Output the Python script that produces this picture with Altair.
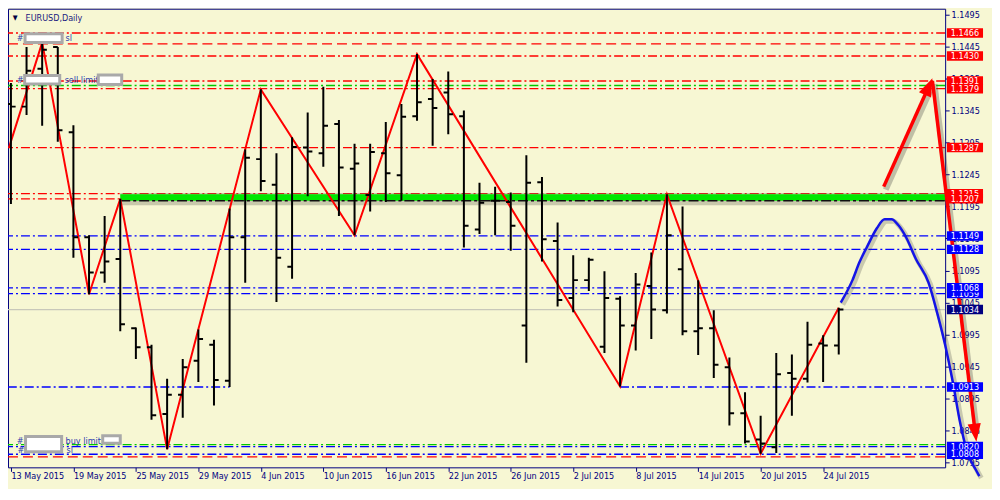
import json
import altair as alt
import pandas as pd

# ---------------- data ----------------
date_labels = ["13 May 2015", "19 May 2015", "25 May 2015", "29 May 2015", "4 Jun 2015",
               "10 Jun 2015", "16 Jun 2015", "22 Jun 2015", "26 Jun 2015", "2 Jul 2015",
               "8 Jul 2015", "14 Jul 2015", "20 Jul 2015", "24 Jul 2015"]
price_ticks = [1.0795, 1.0845, 1.0895, 1.0945, 1.0995, 1.1045, 1.1095, 1.1145,
               1.1195, 1.1245, 1.1295, 1.1345, 1.1395, 1.1445, 1.1495]

opens = [1.1355, 1.1351, 1.1410, 1.1444, 1.1311, 1.1147, 1.1092, 1.1113, 1.1005, 1.0975,
         1.0871, 1.0901, 1.0954, 1.0979, 1.0923, 1.1147, 1.1269, 1.1229, 1.1101, 1.1287,
         1.1278, 1.1324, 1.1254, 1.1213, 1.1278, 1.1244, 1.1336, 1.1363, 1.1373, 1.1336,
         1.1159, 1.1204, 1.1202, 1.1009, 1.1233, 1.1141, 1.1052, 1.1080, 1.0976, 1.1051,
         1.1009, 1.1071, 1.1033, 1.1097, 1.1000, 1.1005, 1.0944, 1.0872, 1.0831, 1.0819,
         1.0935, 1.0926, 1.0981, 1.0978]
highs = [1.1388, 1.1444, 1.1451, 1.1444, 1.1322, 1.1150, 1.1180, 1.1207, 1.1006, 1.0979,
         1.0926, 1.0957, 1.1003, 1.0987, 1.1192, 1.1284, 1.1378, 1.1278, 1.1303, 1.1342,
         1.1382, 1.1330, 1.1293, 1.1293, 1.1327, 1.1355, 1.1433, 1.1394, 1.1406, 1.1345,
         1.1232, 1.1226, 1.1217, 1.1275, 1.1241, 1.1170, 1.1119, 1.1115, 1.1094, 1.1055,
         1.1091, 1.1123, 1.1214, 1.1195, 1.1080, 1.1033, 1.0959, 1.0905, 1.0868, 1.0966,
         1.0964, 1.1015, 1.0994, 1.1037]
lows = [1.1199, 1.1338, 1.1321, 1.1296, 1.1115, 1.1058, 1.1076, 1.1000, 1.0957, 1.0862,
        1.0816, 1.0865, 1.0921, 1.0884, 1.0913, 1.1076, 1.1219, 1.1046, 1.1082, 1.1211,
        1.1257, 1.1180, 1.1150, 1.1187, 1.1202, 1.1204, 1.1329, 1.1290, 1.1308, 1.1131,
        1.1152, 1.1150, 1.1126, 1.0951, 1.1109, 1.1039, 1.1030, 1.1063, 1.0966, 1.0914,
        1.0970, 1.0988, 1.1028, 1.0994, 1.0963, 1.0927, 1.0853, 1.0825, 1.0809, 1.0810,
        1.0868, 1.0920, 1.0921, 1.0964]
closes = [1.1351, 1.1407, 1.1440, 1.1314, 1.1147, 1.1092, 1.1109, 1.1011, 1.0975, 1.0869,
          1.0901, 1.0944, 1.0988, 1.0924, 1.1147, 1.1271, 1.1235, 1.1115, 1.1288, 1.1281,
          1.1321, 1.1256, 1.1262, 1.1280, 1.1247, 1.1335, 1.1358, 1.1349, 1.1339, 1.1165,
          1.1201, 1.1204, 1.1165, 1.1232, 1.1144, 1.1049, 1.1080, 1.1112, 1.1052, 1.1009,
          1.1073, 1.1034, 1.1150, 1.1000, 1.1005, 1.0948, 1.0872, 1.0828, 1.0825, 1.0933,
          1.0926, 1.0979, 1.0978, 1.1034]

zigzag_idx = [-0.125, 2, 5, 7, 10, 16, 22, 26, 39, 42, 48, 53]
zigzag_price = [1.1287, 1.1451, 1.1058, 1.1207, 1.0816, 1.1378, 1.1150, 1.1433,
                1.0914, 1.1214, 1.0809, 1.1037]

proj_idx = [53.13, 53.88, 54.31, 54.81, 55.44, 55.94, 56.38, 56.81, 57.31, 57.94,
            58.75, 59.31, 59.81, 60.31, 60.75, 61.25, 61.75, 62.0]
proj_price = [1.1045, 1.1080, 1.1107, 1.1132, 1.1161, 1.1175, 1.1175, 1.1166, 1.1147,
              1.1113, 1.1076, 1.1028, 1.0979, 1.0920, 1.0860, 1.0810, 1.0785, 1.0774]

arrow_up_idx = [55.88, 58.72]
arrow_up_price = [1.1226, 1.1380]
arrow_dn_idx = [59.0, 61.73]
arrow_dn_price = [1.1391, 1.0844]

red_dashdot_levels = [1.1466, 1.1430, 1.1391, 1.1379, 1.1287, 1.1215, 1.1207]
red_dash_levels = [1.1449, 1.0804]
green_levels = [1.1384, 1.0823]
blue_levels = [1.1149, 1.1128, 1.1068, 1.1059, 1.0820, 1.0808]
blue_segment_idx = [[-0.2, 14], [39, 60]]
blue_segment_price = 1.0913
current_price = 1.1034
zone_low, zone_high, zone_start = 1.1204, 1.1214, 7

red_tags = [1.1466, 1.1430, 1.1391, 1.1379, 1.1287, 1.1207]
red_tags_back = [1.1215]
blue_tags = [1.1149, 1.1128, 1.1068, 1.0913, 1.0808]
blue_tags_back = [1.1059, 1.0820]

# ---------------- styling ----------------
BG = "#F7F7D3"
NAVY = "#000080"
FONT = "DejaVu Sans Condensed, Liberation Sans, sans-serif"
LBL = "#2B3BAE"
W, H = 940, 460
LW = 1.35
xs = alt.Scale(domain=[-0.1875, 59.8125], nice=False, zero=False)
ys = alt.Scale(domain=[1.07876, 1.15039], nice=False, zero=False)
XAXIS = alt.Axis(values=list(range(0, 53, 4)),
                 labelExpr=json.dumps(date_labels) + "[round(datum.value / 4)]",
                 title=None, orient="bottom", tickSize=4, labelAlign="left",
                 labelPadding=0, labelFlush=False, labelOverlap=False, labelBound=False)
YAXIS = alt.Axis(values=price_ticks, format=".4f", title=None, orient="right",
                 tickSize=4, labelPadding=2, labelAlign="left", labelBaseline="middle",
                 labelOverlap=False, labelBound=False, labelFlush=False)
DASHDOT = [9, 3, 2, 3]
DASH = [10, 5]


def Y(field):
    return alt.Y(field, type="quantitative", scale=ys, axis=YAXIS)


def X(field):
    return alt.X(field, type="quantitative", scale=xs, axis=XAXIS)


def hrules(prices, color, dash, width=LW):
    d = pd.DataFrame({"price": prices})
    return alt.Chart(d).mark_rule(color=color, strokeDash=dash, strokeWidth=width,
                                  clip=True).encode(y=Y("price"))


layers = []

# level lines
layers.append(hrules([current_price], "#C8C8BA", [1, 0], 1.2))
layers.append(hrules(red_dashdot_levels, "#FF0000", DASHDOT))
layers.append(hrules(red_dash_levels, "#FF0000", DASH))
layers.append(hrules(green_levels, "#00C800", DASHDOT))
layers.append(hrules(blue_levels, "#0000FF", DASHDOT))
seg = pd.DataFrame({"a": [s[0] for s in blue_segment_idx], "b": [s[1] for s in blue_segment_idx],
                    "price": [blue_segment_price] * len(blue_segment_idx)})
layers.append(alt.Chart(seg).mark_rule(color="#0000FF", strokeDash=DASHDOT, strokeWidth=LW, clip=True)
              .encode(x=X("a"), x2="b", y=Y("price")))

# support zone (green band with shadow)
zone = pd.DataFrame({"a": [zone_start], "b": [60], "lo": [zone_low], "hi": [zone_high]})
layers.append(alt.Chart(zone).transform_calculate(slo="datum.lo - 0.0007", shi="datum.hi + 0.0002")
              .mark_rect(color="#707060", opacity=0.35, clip=True)
              .encode(x=X("a"), x2="b", y=Y("slo:Q"), y2="shi:Q"))
layers.append(alt.Chart(zone).mark_rect(color="#00E800", clip=True)
              .encode(x=X("a"), x2="b", y=Y("lo"), y2="hi"))
layers.append(alt.Chart(zone).mark_rule(color="#101010", strokeDash=[10, 3, 3, 3], strokeWidth=1.5,
                                        clip=True)
              .encode(x=X("a"), x2="b", y=Y("lo")))

# zigzag
zz = pd.DataFrame({"idx": zigzag_idx, "price": zigzag_price})
layers.append(alt.Chart(zz).mark_line(color="#FF0000", strokeWidth=2, clip=True)
              .encode(x=X("idx"), y=Y("price")))

# OHLC bars
df = pd.DataFrame({"idx": list(range(len(opens))), "open": opens, "high": highs,
                   "low": lows, "close": closes})
df["xl"] = df["idx"] - 0.3
df["xr"] = df["idx"] + 0.3
base = alt.Chart(df)
layers.append(base.mark_rule(color="#000000", strokeWidth=2, clip=True)
              .encode(x=X("idx"), y=Y("low"), y2="high"))
layers.append(base.mark_rule(color="#000000", strokeWidth=2, clip=True)
              .encode(x=X("xl"), x2="idx", y=Y("open")))
layers.append(base.mark_rule(color="#000000", strokeWidth=2, clip=True)
              .encode(x=X("idx"), x2="xr", y=Y("close")))

# projection curve (with soft shadow)
pj = pd.DataFrame({"idx": proj_idx, "price": proj_price})
layers.append(alt.Chart(pj).mark_line(color="#404040", opacity=0.25, strokeWidth=5,
                                      interpolate="monotone", xOffset=2, yOffset=2)
              .encode(x=X("idx"), y=Y("price")))
layers.append(alt.Chart(pj).mark_line(color="#1414E6", strokeWidth=2.5, interpolate="monotone")
              .encode(x=X("idx"), y=Y("price")))

# arrows
ARROW = "M0,-1L0.62,0.7L-0.62,0.7Z"
for ax_, ap_, ang in [(arrow_up_idx, arrow_up_price, 24), (arrow_dn_idx, arrow_dn_price, 173)]:
    a = pd.DataFrame({"idx": ax_, "price": ap_})
    layers.append(alt.Chart(a).mark_line(color="#404040", opacity=0.3, strokeWidth=6,
                                         xOffset=2, yOffset=3)
                  .encode(x=X("idx"), y=Y("price")))
    layers.append(alt.Chart(a).mark_line(color="#FF0000", strokeWidth=3.5)
                  .encode(x=X("idx"), y=Y("price")))
    head = a.tail(1)
    layers.append(alt.Chart(head).mark_point(shape=ARROW, size=460, filled=True, color="#FF0000",
                                             opacity=1, angle=ang, strokeWidth=0)
                  .encode(x=X("idx"), y=Y("price")))


# left order labels (blurred ids shown as white boxes)
def box(cx, price, w, h):
    r = h / w
    shape = f"M-1,{-r:.3f}L1,{-r:.3f}L1,{r:.3f}L-1,{r:.3f}Z"
    d = pd.DataFrame({"price": [price]})
    return alt.Chart(d).mark_point(shape=shape, size=w * w, filled=True, fill="#FFFFFF",
                                   stroke="#A9A9A9", strokeWidth=3, opacity=1).encode(
        x=alt.value(cx), y=Y("price"))


def txt(x, price, s, color=LBL, size=9):
    d = pd.DataFrame({"price": [price], "t": [s]})
    return alt.Chart(d).mark_text(align="left", baseline="middle", font=FONT, fontSize=size,
                                  color=color).encode(x=alt.value(x), y=Y("price"), text="t:N")


layers += [txt(8.8, 1.1458, "#"), box(35.7, 1.1458, 37.2, 8.6), txt(57.8, 1.1458, "sl")]
layers += [txt(8.8, 1.1392, "#"), box(34.3, 1.1393, 35.2, 8.6), txt(56.8, 1.1392, "sell limit"),
           box(102.3, 1.1393, 23.5, 9.5)]
layers += [txt(9.6, 1.0814, "#"), txt(8.8, 1.0829, "#"), box(35.7, 1.0824, 36.2, 15.3),
           txt(57.8, 1.0829, "buy limit"), box(103.8, 1.0831, 17.6, 7.6), txt(58.7, 1.0814, "sl")]

# right price tags
TAG = "M-1,-0.262L1,-0.262L1,0.262L-1,0.262Z"


def tags(prices, color):
    d = pd.DataFrame({"price": prices})
    b = alt.Chart(d).mark_point(shape=TAG, size=36.2 * 36.2, filled=True, color=color, opacity=1,
                                strokeWidth=0).encode(x=alt.value(959.9), y=Y("price"))
    t = alt.Chart(d).mark_text(align="left", baseline="middle", font=FONT, fontSize=9,
                               color="#FFFFFF").encode(x=alt.value(945.7), y=Y("price"),
                                                      text=alt.Text("price:Q", format=".4f"))
    return [b, t]


layers += tags(red_tags_back, "#FF0000")
layers += tags(blue_tags_back, "#0000FF")
layers += tags(red_tags, "#FF0000")
layers += tags(blue_tags, "#0000FF")
layers += tags([current_price], "#000080")

# title
layers.append(alt.Chart(pd.DataFrame({"t": ["EURUSD,Daily"]})).mark_text(
    align="left", baseline="middle", font=FONT, fontSize=9, color="#1A1A80").encode(
    x=alt.value(17.6), y=alt.value(9.5), text="t:N"))
layers.append(alt.Chart(pd.DataFrame({"t": ["▼"]})).mark_text(
    align="center", baseline="middle", font=FONT, fontSize=7, color="#000040").encode(
    x=alt.value(7.3), y=alt.value(9.5), text="t:N"))

chart = alt.layer(*layers).properties(width=W, height=H, background=BG, padding=0).configure_view(
    stroke=NAVY, strokeWidth=1).configure_axis(
    labelFont=FONT, labelFontSize=9, labelColor=NAVY, tickColor=NAVY, domain=False, grid=False)

chart.save("out.html", embed_options={"renderer": "svg", "actions": False})
